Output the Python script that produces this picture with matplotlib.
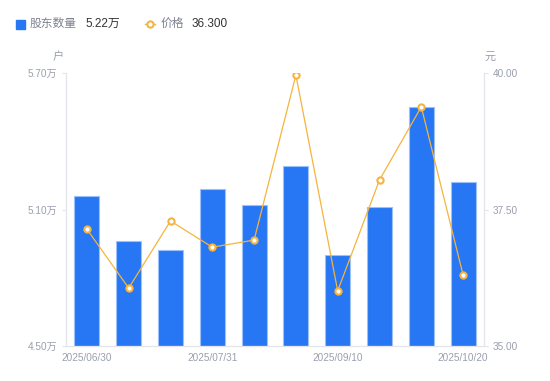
import matplotlib.pyplot as plt
from matplotlib.lines import Line2D
from matplotlib.patches import Rectangle

plt.rcParams['font.family'] = ['Liberation Sans', 'Noto Sans CJK SC', 'DejaVu Sans']

# data
tick_labels = ["2025/06/30", "", "", "2025/07/31", "", "", "2025/09/10", "", "", "2025/10/20"]
holders = [5.16, 4.96, 4.92, 5.19, 5.12, 5.29, 4.90, 5.11, 5.55, 5.22]   # 万户
price = [37.14, 36.06, 37.29, 36.81, 36.94, 39.96, 36.01, 38.04, 39.38, 36.30]

BLUE = "#2776f3"
ORANGE = "#f6b43c"
GRAY = "#9a9fae"
AXIS = "#e3e5ea"

fig = plt.figure(figsize=(5.5, 3.81), dpi=100)
ax = fig.add_axes([66/550, 1 - 346/381, 418/550, 273/381])
x = range(len(holders))
ax.bar(x, [h - 4.5 for h in holders], bottom=4.5, width=0.6, color=BLUE,
       edgecolor="#9cc1fa", linewidth=0.8, zorder=2)
ax.set_xlim(-0.5, len(holders) - 0.5)
ax.set_ylim(4.5, 5.7)
ax.set_yticks([4.5, 5.1, 5.7])
ax.set_yticklabels(["4.50万", "5.10万", "5.70万"])
ax.set_xticks(list(x))
ax.set_xticklabels(tick_labels)

ax2 = ax.twinx()
ax2.plot(x, price, color=ORANGE, lw=0.9, marker="o", ms=4.5, mfc="white",
         mec=ORANGE, mew=1.5, zorder=3)
ax2.set_ylim(35, 40)
ax2.set_yticks([35, 37.5, 40])
ax2.set_yticklabels(["35.00", "37.50", "40.00"])

for a in (ax, ax2):
    for s in a.spines.values():
        s.set_color(AXIS)
        s.set_linewidth(0.9)
    a.spines["top"].set_visible(False)
    a.tick_params(colors=GRAY, labelsize=7.2, length=3, width=0.8)
    a.tick_params(axis="y", color=AXIS, labelcolor=GRAY)
ax.tick_params(axis="x", length=0, pad=5)
ax.spines["right"].set_visible(False)
ax2.spines["left"].set_visible(False)
ax2.spines["bottom"].set_visible(False)

# units
fig.text(58/550, 1 - 57/381, "户", color=GRAY, fontsize=8, ha="center", va="center")
fig.text(490/550, 1 - 57/381, "元", color=GRAY, fontsize=8, ha="center", va="center")

# legend
fig.add_artist(Rectangle((16/550, 1 - 29/381), 9/550, 9/381, color=BLUE,
                         transform=fig.transFigure))
fig.text(30/550, 1 - 24/381, "股东数量", color="#7d8290", fontsize=8.5, va="center")
fig.text(85/550, 1 - 24/381, "5.22万", color="#333333", fontsize=8.5, va="center")
fig.add_artist(Line2D([145/550, 155/550], [1 - 24/381] * 2, color=ORANGE, lw=1,
                      transform=fig.transFigure))
fig.add_artist(Line2D([150/550], [1 - 24/381], color=ORANGE, marker="o", ms=4.5,
                      mfc="white", mew=1.5, transform=fig.transFigure))
fig.text(161/550, 1 - 24/381, "价格", color="#7d8290", fontsize=8.5, va="center")
fig.text(192/550, 1 - 24/381, "36.300", color="#333333", fontsize=8.5, va="center")

fig.savefig("out.png", dpi=100)
